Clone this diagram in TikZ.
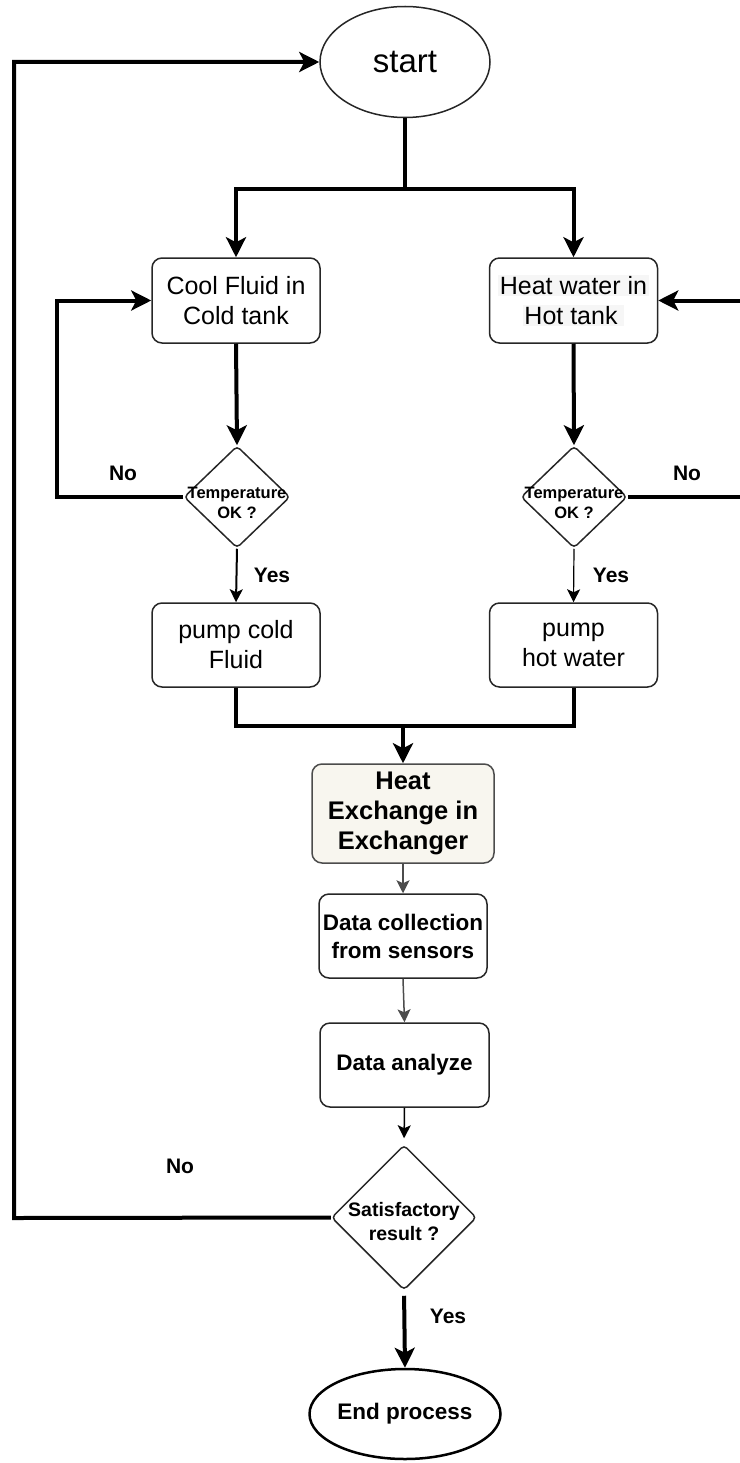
\documentclass[tikz,border=0pt]{standalone}
\usepackage{fontspec}
\setmainfont{Liberation Sans}
\usetikzlibrary{shapes.geometric,arrows.meta,calc}
\definecolor{hl}{RGB}{246,246,246}
\definecolor{heatfill}{RGB}{248,246,239}
\begin{document}
\begin{tikzpicture}[x=1pt,y=-1pt,
  thickline/.style={line width=4pt},
  bigarrow/.style={line width=4pt,-{Stealth[length=20pt,width=20pt,inset=5pt]}},
  smallarrow/.style={line width=1.5pt,-{Stealth[length=13pt,width=13pt,inset=3pt]}},
  box/.style={draw=black!85,line width=1.5pt,rounded corners=10pt,minimum width=168pt,minimum height=85pt,inner sep=0pt,align=center},
  dia/.style={draw=black!85,diamond,line width=1.5pt,rounded corners=4pt,inner sep=0pt},
  regtxt/.style={font=\fontsize{25}{30}\selectfont,align=center},
  boldtxt/.style={font=\bfseries\fontsize{22.5}{28}\selectfont,align=center},
  lbl/.style={font=\bfseries\fontsize{21}{25}\selectfont},
  diatxt/.style={font=\bfseries\fontsize{16.5}{20}\selectfont,align=center,inner sep=0pt}
]
\useasboundingbox (0,0) rectangle (739,1463);

% nodes
\node[draw=black!85,ellipse,line width=1.5pt,minimum width=170pt,minimum height=111pt,inner sep=0pt,font=\fontsize{33}{38}\selectfont] (start) at (405,62) {start};
\node[box,regtxt] (cool) at (236,300.5) {Cool Fluid in\\Cold tank};
\node[box,regtxt] (hot) at (573.5,300.5) {\setlength\fboxsep{1.5pt}\colorbox{hl}{Heat water in}\\\setlength\fboxsep{1.5pt}\colorbox{hl}{Hot tank\hspace{5pt}}};
\node[dia,minimum width=106pt,minimum height=102pt] (d1) at (237,497) {};
\node[diatxt] (d1t) at (237,503) {Temperature\\OK ?};
\node[dia,minimum width=106pt,minimum height=102pt] (d2) at (574,497) {};
\node[diatxt] (d2t) at (574,503) {Temperature\\OK ?};
\node[box,regtxt,minimum height=84pt] (p1) at (236,645) {pump cold\\Fluid};
\node[box,regtxt,minimum height=84pt] (p2) at (573.5,645) {pump\\hot water};
\node[box,font=\bfseries\fontsize{25.5}{30}\selectfont,minimum width=182pt,minimum height=99pt,fill=heatfill,draw=black!70] (heat) at (403,813.5) {Heat\\Exchange in\\Exchanger};
\node[box,boldtxt,minimum height=84pt] (dc) at (403,936) {Data collection\\from sensors};
\node[box,boldtxt,minimum width=169pt,minimum height=84pt] (da) at (404.5,1065) {Data analyze};
\node[dia,minimum width=145pt,minimum height=145pt] (sat) at (404,1217.5) {};
\node[font=\bfseries\fontsize{19.5}{24}\selectfont,align=center,inner sep=0pt] (satt) at (404,1222) {Satisfactory\\result ?};
\node[draw=black,ellipse,line width=2.5pt,minimum width=154pt,minimum height=90pt,inner sep=0pt,font=\bfseries\fontsize{22.5}{26}\selectfont] (end) at (405,1414) {End process};

% labels
\node[lbl] (no1) at (123,473) {No};
\node[lbl] (no2) at (687,473) {No};
\node[lbl] (yes1) at (272,575) {Yes};
\node[lbl] (yes2) at (611,575) {Yes};
\node[lbl] (no3) at (180,1166) {No};
\node[lbl] (yes3) at (448,1316) {Yes};

% coordinates
\coordinate (split) at (405,189);
\coordinate (merge) at (403,726);
\coordinate (lc) at (57,497);
\coordinate (rc) at (742,497);
\coordinate (bc) at (14,1218);

% connectors
\draw[thickline] (start.south) -- (split);
\draw[bigarrow] (split) -| (cool.north);
\draw[bigarrow] (split) -| (hot.north);
\draw[bigarrow] (cool.south) -- (d1.north);
\draw[bigarrow] (hot.south) -- (d2.north);
\draw[bigarrow] (d1.west) -- (lc) |- (cool.west);
\draw[bigarrow] (d2.east) -- (rc) |- (hot.east);
\draw[smallarrow,line width=2pt] (d1.south) -- (p1.north);
\draw[smallarrow,line width=1.2pt] (d2.south) -- (p2.north);
\draw[thickline] (p1.south) |- (merge) -| (p2.south);
\draw[bigarrow] (merge) -- (heat.north);
\draw[smallarrow,draw=black!70,fill=black!80] (heat.south) -- (dc.north);
\draw[smallarrow,draw=black!70,fill=black!80] (dc.south) -- (da.north);
\draw[smallarrow,shorten >=6pt] (da.south) -- (sat.north);
\draw[bigarrow] (sat.west) -- (bc) |- (start.west);
\draw[bigarrow,shorten <=5pt] (sat.south) -- (end.north);
\end{tikzpicture}
\end{document}
